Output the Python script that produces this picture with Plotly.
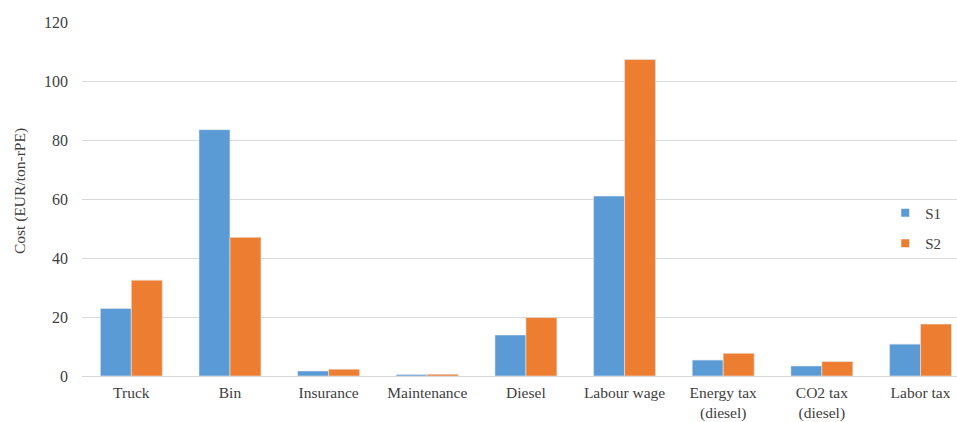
import plotly.graph_objects as go

categories = ["Truck", "Bin", "Insurance", "Maintenance", "Diesel", "Labour wage",
              "Energy tax<br>(diesel)", "CO2 tax<br>(diesel)", "Labor tax"]
s1 = [22.9, 83.5, 1.7, 0.5, 13.9, 61.0, 5.4, 3.4, 10.8]
s2 = [32.5, 47.0, 2.3, 0.6, 19.8, 107.3, 7.7, 4.9, 17.6]
y_ticks = [0, 20, 40, 60, 80, 100, 120]
series_names = ["S1", "S2"]
colors = ["#5B9BD5", "#ED7D31"]
y_title = "Cost (EUR/ton-rPE)"

FONT = "Liberation Serif, Times New Roman, serif"
fig = go.Figure()
for name, vals, col in zip(series_names, [s1, s2], colors):
    fig.add_trace(go.Bar(x=categories, y=vals, name=name, showlegend=False,
                         marker=dict(color=col, line=dict(color="#e8e8e8", width=0.6))))
for name, col in zip(series_names, colors):
    fig.add_trace(go.Scatter(x=[None], y=[None], mode="markers", name=name,
                             legendgroup=name,
                             marker=dict(symbol="square", size=8, color=col)))

fig.add_annotation(text=y_title, textangle=-90, xref="paper", yref="paper",
                   x=-0.071, y=0.522, xanchor="center", yanchor="middle",
                   showarrow=False, font=dict(size=15.5, color="#404040"))

fig.update_layout(
    width=957, height=422,
    margin=dict(l=82, r=0, t=22, b=46),
    paper_bgcolor="white", plot_bgcolor="white",
    font=dict(family=FONT, size=16, color="#404040"),
    barmode="group", bargap=0.372, bargroupgap=0,
    showlegend=True,
    legend=dict(x=0.918, y=0.507, xanchor="left", yanchor="top",
                font=dict(size=15, color="#404040"),
                tracegroupgap=8, bgcolor="rgba(0,0,0,0)",
                itemwidth=30),
    xaxis=dict(range=[-0.5, 8.37], showgrid=False, showline=False, ticks="",
               ticklabelstandoff=5, automargin=False,
               tickfont=dict(size=15.5, color="#404040")),
    yaxis=dict(range=[0, 120], tickvals=y_ticks, showgrid=True, gridcolor="#D9D9D9",
               gridwidth=1, zeroline=True, zerolinecolor="#D9D9D9", zerolinewidth=1,
               showline=False, ticks="", ticklabelstandoff=13, automargin=False,
               tickfont=dict(size=16, color="#404040")),
)

fig.write_html("out.html")
